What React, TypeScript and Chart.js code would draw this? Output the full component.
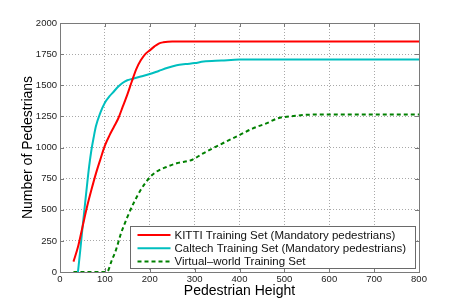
import React, { useEffect, useRef } from "react";
import { Chart, registerables } from "chart.js";

Chart.register(...registerables);

const kittiX = [30, 40, 50, 60, 70, 80, 90, 100, 110, 120, 130, 140, 150, 160, 170, 180, 190, 200, 210, 220, 230, 250, 800];
const kittiY = [83, 200, 360, 520, 660, 790, 905, 1015, 1095, 1165, 1235, 1330, 1425, 1530, 1630, 1700, 1750, 1780, 1810, 1835, 1845, 1852, 1852];

const caltechX = [40, 45, 50, 55, 60, 65, 70, 75, 80, 90, 100, 110, 120, 130, 140, 150, 160, 180, 200, 220, 240, 260, 280, 300, 320, 360, 400, 800];
const caltechY = [0, 170, 350, 520, 690, 850, 980, 1080, 1170, 1280, 1360, 1410, 1450, 1490, 1520, 1540, 1550, 1570, 1590, 1615, 1640, 1660, 1670, 1678, 1690, 1698, 1706, 1706];

const virtualX = [30, 60, 90, 105, 115, 125, 135, 150, 165, 180, 200, 215, 240, 260, 295, 315, 340, 370, 400, 430, 460, 485, 520, 565, 600, 800];
const virtualY = [0, 0, 0, 2, 90, 180, 300, 440, 560, 660, 760, 806, 848, 873, 902, 945, 993, 1047, 1100, 1154, 1194, 1234, 1253, 1265, 1266, 1266];

const xTicks = [0, 100, 200, 300, 400, 500, 600, 700, 800];
const yTicks = [0, 250, 500, 750, 1000, 1250, 1500, 1750, 2000];

const seriesLabels = [
  "KITTI Training Set (Mandatory pedestrians)",
  "Caltech Training Set (Mandatory pedestrians)",
  "Virtual\u2013world Training Set",
];

const FONT = "'Liberation Sans', Arial, Helvetica, sans-serif";

function pts(xs: number[], ys: number[]) {
  return xs.map((x, i) => ({ x, y: ys[i] }));
}

const framePlugin = {
  id: "frameAndLegend",
  afterDraw(chart: any) {
    const { ctx, chartArea } = chart;
    const xs = chart.scales.x;
    const ys = chart.scales.y;
    ctx.save();
    // inward ticks
    ctx.strokeStyle = "#7a7a7a";
    ctx.lineWidth = 1;
    ctx.beginPath();
    xTicks.forEach((v) => {
      const px = Math.round(xs.getPixelForValue(v)) + 0.5;
      ctx.moveTo(px, chartArea.bottom);
      ctx.lineTo(px, chartArea.bottom - 4);
      ctx.moveTo(px, chartArea.top);
      ctx.lineTo(px, chartArea.top + 4);
    });
    yTicks.forEach((v) => {
      const py = Math.round(ys.getPixelForValue(v)) + 0.5;
      ctx.moveTo(chartArea.left, py);
      ctx.lineTo(chartArea.left + 4, py);
      ctx.moveTo(chartArea.right, py);
      ctx.lineTo(chartArea.right - 4, py);
    });
    ctx.stroke();
    // frame
    ctx.strokeStyle = "#7a7a7a";
    ctx.lineWidth = 1;
    ctx.strokeRect(
      Math.round(chartArea.left) + 0.5,
      Math.round(chartArea.top) + 0.5,
      Math.round(chartArea.right - chartArea.left),
      Math.round(chartArea.bottom - chartArea.top)
    );
    // legend box
    const bx = xs.getPixelForValue(0) + 70.5;
    const by = ys.getPixelForValue(0) - 45.5;
    const bw = 285;
    const bh = 42;
    ctx.fillStyle = "#ffffff";
    ctx.fillRect(bx, by, bw, bh);
    ctx.strokeStyle = "#6a6a6a";
    ctx.strokeRect(bx, by, bw, bh);
    ctx.font = `11.5px ${FONT}`;
    ctx.textBaseline = "middle";
    ctx.textAlign = "left";
    chart.data.datasets.forEach((ds: any, i: number) => {
      const cy = by + 8.5 + i * 13.2;
      ctx.strokeStyle = ds.borderColor;
      ctx.lineWidth = ds.borderWidth;
      ctx.setLineDash(ds.borderDash || []);
      ctx.beginPath();
      ctx.moveTo(bx + 7, cy);
      ctx.lineTo(bx + 40, cy);
      ctx.stroke();
      ctx.setLineDash([]);
      ctx.fillStyle = "#111111";
      ctx.fillText(ds.label, bx + 44, cy + 0.5);
    });
    ctx.restore();
  },
};

export default function App() {
  const ref = useRef<HTMLCanvasElement | null>(null);
  useEffect(() => {
    document.body.style.margin = "0";
    const canvas = ref.current;
    if (!canvas) return;
    const chart = new Chart(canvas, {
      type: "line",
      data: {
        datasets: [
          {
            label: seriesLabels[0],
            data: pts(kittiX, kittiY),
            borderColor: "#ff0000",
            borderWidth: 2,
            pointRadius: 0,
            fill: false,
            cubicInterpolationMode: "monotone",
          },
          {
            label: seriesLabels[1],
            data: pts(caltechX, caltechY),
            borderColor: "#00bfbf",
            borderWidth: 2,
            pointRadius: 0,
            fill: false,
            cubicInterpolationMode: "monotone",
          },
          {
            label: seriesLabels[2],
            data: pts(virtualX, virtualY),
            borderColor: "#008000",
            borderWidth: 2,
            borderDash: [4, 3],
            pointRadius: 0,
            fill: false,
            cubicInterpolationMode: "monotone",
          },
        ],
      },
      options: {
        animation: false,
        responsive: false,
        maintainAspectRatio: false,
        layout: { padding: { left: 0, right: 44, top: 23, bottom: 0 } },
        plugins: { legend: { display: false }, tooltip: { enabled: false } },
        scales: {
          x: {
            type: "linear",
            min: 0,
            max: 800,
            afterBuildTicks: (s: any) => {
              s.ticks = xTicks.map((v) => ({ value: v }));
            },
            afterFit: (s: any) => {
              s.height = 34;
            },
            ticks: {
              padding: 2,
              color: "#222",
              font: { family: FONT, size: 9.5 },
              maxRotation: 0,
              callback: (v: any) => String(v),
            },
            grid: { color: "#a8a8a8", drawTicks: false, lineWidth: 1 },
            border: { display: false, dash: [1, 2] },
            title: {
              display: true,
              text: "Pedestrian Height",
              color: "#000",
              font: { family: FONT, size: 14 },
              padding: { top: 0, bottom: 6.5 },
            },
          },
          y: {
            type: "linear",
            min: 0,
            max: 2000,
            afterBuildTicks: (s: any) => {
              s.ticks = yTicks.map((v) => ({ value: v }));
            },
            afterFit: (s: any) => {
              s.width = 60;
            },
            ticks: {
              padding: 3,
              color: "#222",
              font: { family: FONT, size: 9.5 },
              callback: (v: any) => String(v),
            },
            grid: { color: "#a8a8a8", drawTicks: false, lineWidth: 1 },
            border: { display: false, dash: [1, 2] },
            title: {
              display: true,
              text: "Number of Pedestrians",
              color: "#000",
              font: { family: FONT, size: 14 },
              padding: { top: 19.5, bottom: 0 },
            },
          },
        },
      },
      plugins: [framePlugin],
    } as any);
    return () => chart.destroy();
  }, []);
  return (
    <div style={{ width: 463, height: 306 }}>
      <canvas ref={ref} width={463} height={306} style={{ width: 463, height: 306, display: "block" }} />
    </div>
  );
}
